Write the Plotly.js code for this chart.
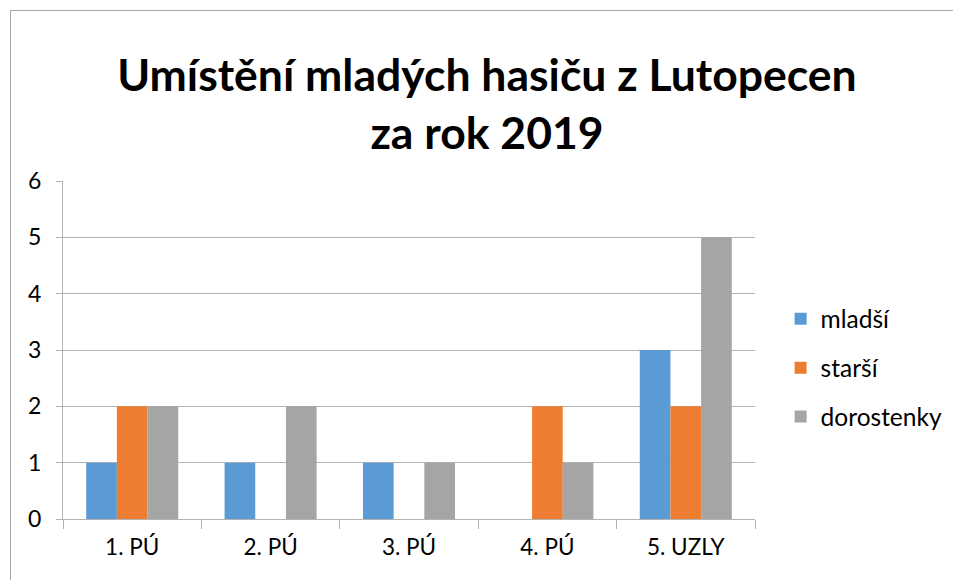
<!DOCTYPE html>
<html>
<head>
<meta charset="utf-8">
<script src="https://cdn.plot.ly/plotly-3.0.1.min.js"></script>
<style>
html,body{margin:0;padding:0;background:#fff;}
#chart{width:953px;height:580px;}
#frame{position:absolute;left:10px;top:10px;width:1000px;height:1000px;border-left:1px solid #a6a6a6;border-top:1px solid #a6a6a6;pointer-events:none;}
</style>
</head>
<body>
<div id="chart"></div>
<div id="frame"></div>
<script>
const categories = ["1. PÚ", "2. PÚ", "3. PÚ", "4. PÚ", "5. UZLY"];
const seriesNames = ["mladší", "starší", "dorostenky"];
const mladsi = [1, 1, 1, 0, 3];
const starsi = [2, 0, 0, 2, 2];
const dorostenky = [2, 2, 1, 1, 5];
const colors = ["#5B9BD5", "#ED7D31", "#A5A5A5"];
const yTicks = [0, 1, 2, 3, 4, 5, 6];

const values = [mladsi, starsi, dorostenky];
const font = "Lato, 'Open Sans', sans-serif";

const traces = values.map((v, i) => ({
  type: "bar",
  name: seriesNames[i],
  x: categories,
  y: v,
  marker: {color: colors[i], line: {width: 0}},
  legendgroup: "g" + i,
  hoverinfo: "x+y+name"
}));

const layout = {
  width: 953,
  height: 580,
  margin: {l: 63, r: 198, t: 181, b: 61, autoexpand: false},
  paper_bgcolor: "rgba(0,0,0,0)",
  plot_bgcolor: "rgba(0,0,0,0)",
  font: {family: font, color: "#000"},
  title: {
    text: "<b>Umístění mladých hasiču z Lutopecen<br>za rok 2019</b>",
    font: {family: font, size: 44.5, color: "#000"},
    x: 0.511, xanchor: "center", xref: "container",
    y: 0.843, yanchor: "middle", yref: "container"
  },
  barmode: "group",
  bargap: 0.335,
  bargroupgap: 0,
  xaxis: {
    type: "category",
    tickson: "boundaries",
    ticks: "outside",
    ticklen: 9,
    tickcolor: "#b3b3b3",
    tickwidth: 1,
    showline: true,
    linecolor: "#b3b3b3",
    linewidth: 1,
    showgrid: false,
    automargin: false,
    tickfont: {family: font, size: 22.5, color: "#000"},
    ticklabelstandoff: 8,
    fixedrange: true
  },
  yaxis: {
    range: [0, 6],
    tickvals: yTicks,
    ticks: "outside",
    ticklen: 6,
    tickcolor: "#b3b3b3",
    showline: true,
    linecolor: "#b3b3b3",
    showgrid: true,
    gridcolor: "#b3b3b3",
    gridwidth: 1,
    zeroline: false,
    automargin: false,
    tickfont: {family: font, size: 23, color: "#000"},
    ticklabelstandoff: 10,
    fixedrange: true
  },
  showlegend: true,
  legend: {
    x: 1.037, xanchor: "left",
    y: 0.447, yanchor: "middle",
    traceorder: "grouped",
    tracegroupgap: 14,
    font: {family: font, size: 24.5, color: "#000"},
    itemwidth: 30,
    bgcolor: "rgba(0,0,0,0)"
  }
};

Plotly.newPlot("chart", traces, layout, {displayModeBar: false, staticPlot: true});
</script>
</body>
</html>
